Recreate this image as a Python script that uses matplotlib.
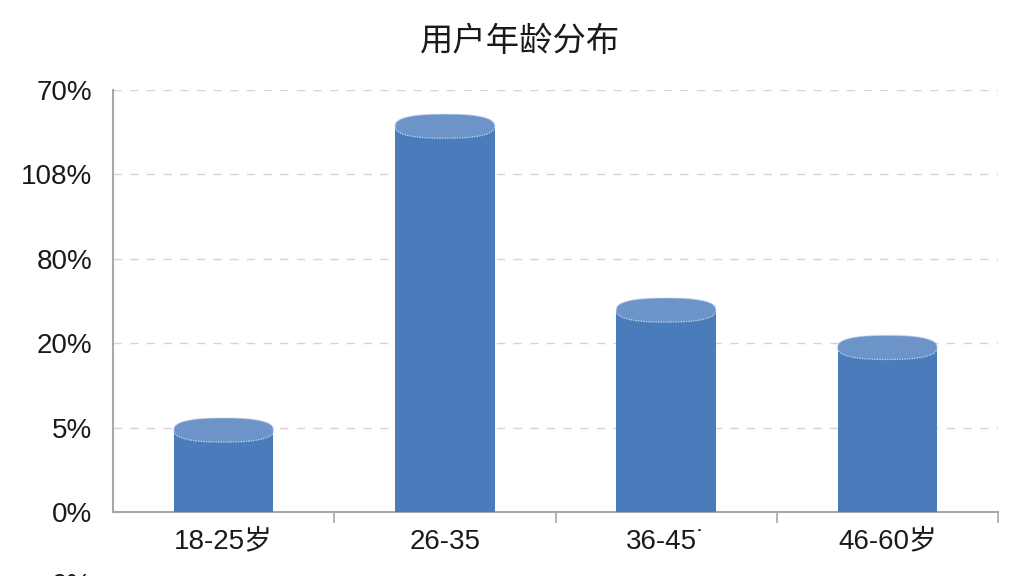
import matplotlib
matplotlib.use("Agg")
import matplotlib.pyplot as plt
import numpy as np
from matplotlib.patches import Polygon

plt.rcParams['font.family'] = ['Liberation Sans', 'Noto Sans CJK SC', 'DejaVu Sans']

title = "用户年龄分布"
categories = ["18-25岁", "26-35", "36-45˙", "46-60岁"]
values = [13.6, 64.0, 33.5, 27.3]          # in axis units (0-70 scale)
tick_positions = [0, 14, 28, 42, 56, 70]
tick_labels = ["0%", "5%", "20%", "80%", "108%", "70%"]
extra_label = "0%"

bar_color = "#4a7cbc"
top_color = "#6d94c8"

fig = plt.figure(figsize=(10.24, 5.76), dpi=100)
ax = fig.add_axes([113/1024, 1 - 512/576, (998 - 113)/1024, (512 - 90)/576])

x = list(range(len(categories)))
bw = 0.45
cap_h = 4.0
ax.bar(x, values, width=bw, color=bar_color, zorder=3)

t = np.linspace(0, 2 * np.pi, 200)
n = 2.5
cx = np.sign(np.cos(t)) * np.abs(np.cos(t)) ** (2 / n)
cy = np.sign(np.sin(t)) * np.abs(np.sin(t)) ** (2 / n)
for xi, v in zip(x, values):
    pts = np.column_stack([xi + cx * bw / 2, v + cy * cap_h / 2])
    cap = Polygon(pts, closed=True, facecolor=top_color, edgecolor="#c9d8ec",
                  linestyle=(0, (1, 1)), linewidth=0.9, zorder=4)
    ax.add_patch(cap)

ax.set_xlim(-0.5, len(categories) - 0.5)
ax.set_ylim(0, 70)
ax.set_yticks(tick_positions)
ax.set_yticklabels(tick_labels)
ax.set_xticks(x)
ax.set_xticklabels(categories)
ax.set_xticks([i + 0.5 for i in x], minor=True)

for yv in tick_positions[1:]:
    ax.axhline(yv, color="#d4d4d4", linestyle=(0, (6, 6)), linewidth=1.0, zorder=1)

for s in ["top", "right"]:
    ax.spines[s].set_visible(False)
ax.spines["left"].set_color("#a8a8a8")
ax.spines["bottom"].set_color("#a8a8a8")
ax.spines["left"].set_linewidth(1.5)
ax.spines["bottom"].set_linewidth(1.5)

ax.tick_params(axis="y", length=0, pad=15, labelsize=20, labelcolor="#1a1a1a")
ax.tick_params(axis="x", which="major", length=0, pad=12, labelsize=20, labelcolor="#1a1a1a")
ax.tick_params(axis="x", which="minor", length=8, width=1.2, color="#a8a8a8", direction="out")

fig.text(520/1024, 1 - 42/576, title, ha="center", va="center", fontsize=24, color="#1a1a1a")
fig.text(92/1024, 1 - 586/576, extra_label, ha="right", va="center", fontsize=20, color="#1a1a1a")

fig.savefig("out.png", dpi=100, facecolor="white")
